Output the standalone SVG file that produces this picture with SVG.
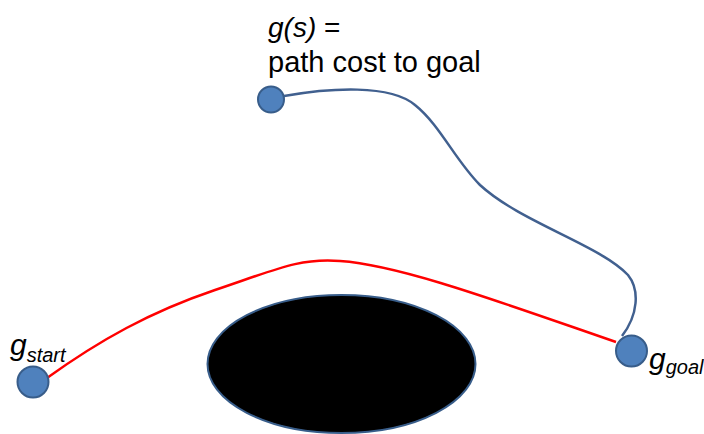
<svg xmlns="http://www.w3.org/2000/svg" width="704" height="434" viewBox="0 0 704 434">
<style>
.node{fill:#4F81BD;stroke:#385D8A;stroke-width:2}
.lbl{font-family:"Liberation Sans",Arial,sans-serif;fill:#000}
.it{font-style:italic}
</style>
<rect width="704" height="434" fill="#fff"/>
<g id="obstacle">
<ellipse cx="341.5" cy="364" rx="134" ry="69" fill="#000" stroke="#385D8A" stroke-width="2"/>
</g>
<g id="connectors" fill="none">
<path d="M284,96 C330,88 390,84 415,105 C440,125 455,160 480,185 C520,222 600,245 628,275 C640,290 638,315 622,336" stroke="#41608F" stroke-width="2.5"/>
<path d="M47,378 C100,340 150,312 215,290 S300,258 340,261 C400,265 500,302 616,342" stroke="#FF0000" stroke-width="2.5"/>
</g>
<g id="s">
<circle class="node" cx="271" cy="99.5" r="13"/>
<text class="lbl" font-size="28" x="268" y="37"><tspan class="it">g(s)</tspan> =</text>
<text class="lbl" font-size="29" x="268" y="72">path cost to goal</text>
</g>
<g id="start">
<circle class="node" cx="33" cy="382" r="15.5"/>
<text class="lbl it" font-size="30" x="10" y="355">g<tspan font-size="20" dy="7">start</tspan></text>
</g>
<g id="goal">
<circle class="node" cx="631.5" cy="351" r="15.5"/>
<text class="lbl it" font-size="30" x="649" y="369">g<tspan font-size="20" dy="5">goal</tspan></text>
</g>
</svg>
